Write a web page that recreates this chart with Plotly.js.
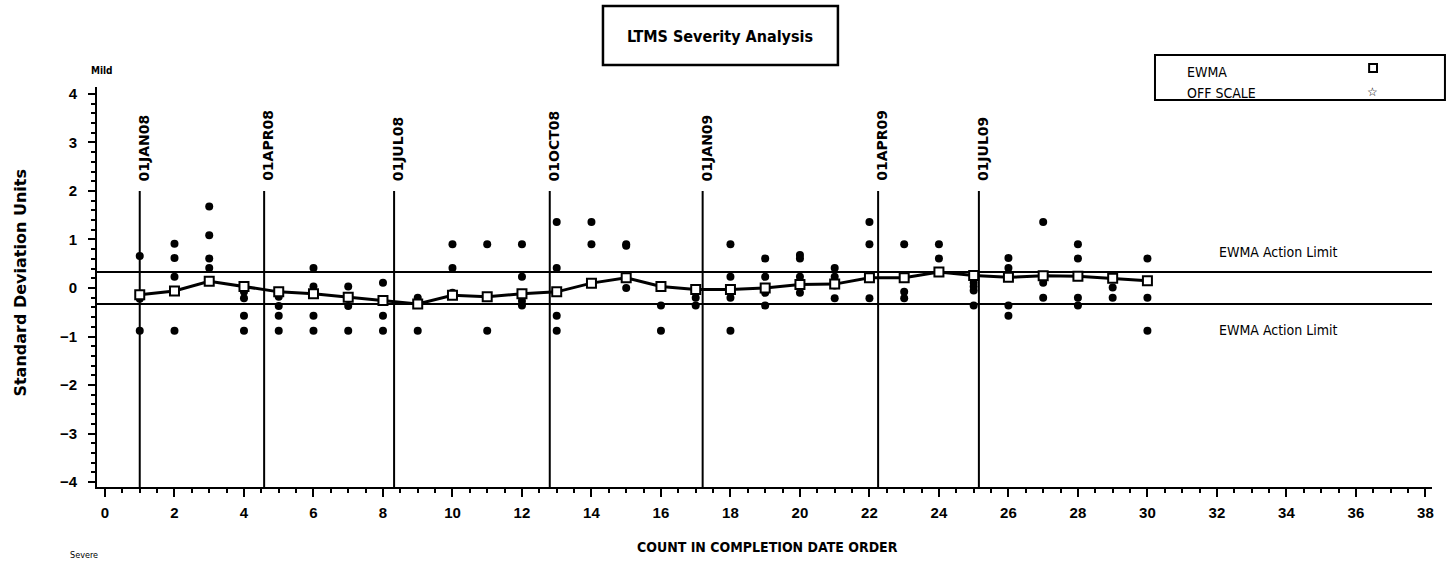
<!DOCTYPE html>
<html>
<head>
<meta charset="utf-8">
<script src="https://cdn.plot.ly/plotly-3.0.1.min.js"></script>
<style>
html,body{margin:0;padding:0;background:#fff;}
#chart{width:1455px;height:562px;}
</style>
</head>
<body>
<div id="chart"></div>
<script>
// ---- Data ----
const testIndex = [
  1,1,1,
  2,2,2,2,
  3,3,3,3,
  4,4,4,4,
  5,5,5,5,
  6,6,6,6,
  7,7,7,
  8,8,8,
  9,9,9,
  10,10,10,
  11,11,11,
  12,12,12,12,
  13,13,13,13,13,
  14,14,
  15,15,15,
  16,16,
  17,17,
  18,18,18,18,
  19,19,19,19,
  20,20,20,20,
  21,21,21,21,
  22,22,22,
  23,23,23,
  24,24,
  25,25,25,25,
  26,26,26,26,26,
  27,27,27,
  28,28,28,28,
  29,29,
  30,30,30
];
const testValue = [
  0.66,-0.22,-0.88,
  0.91,0.62,0.23,-0.88,
  1.68,1.09,0.61,0.41,
  -0.08,-0.21,-0.57,-0.88,
  -0.18,-0.37,-0.57,-0.88,
  0.41,0.03,-0.57,-0.88,
  0.03,-0.37,-0.88,
  0.11,-0.57,-0.88,
  -0.20,-0.35,-0.88,
  0.90,0.41,-0.10,
  0.90,-0.20,-0.88,
  0.90,0.23,-0.27,-0.36,
  1.36,0.41,-0.10,-0.57,-0.88,
  1.36,0.90,
  0.90,0.87,0.00,
  -0.36,-0.88,
  -0.20,-0.36,
  0.90,0.23,-0.20,-0.88,
  0.61,0.23,-0.10,-0.36,
  0.68,0.61,0.23,-0.10,
  0.41,0.23,0.05,-0.21,
  1.36,0.90,-0.21,
  0.90,-0.08,-0.21,
  0.90,0.61,
  0.11,0.03,-0.05,-0.36,
  0.62,0.41,0.30,-0.36,-0.57,
  1.36,0.11,-0.20,
  0.90,0.61,-0.20,-0.36,
  0.01,-0.20,
  0.61,-0.20,-0.88
];
const ewmaIndex = [1,2,3,4,5,6,7,8,9,10,11,12,13,14,15,16,17,18,19,20,21,22,23,24,25,26,27,28,29,30];
const ewmaValue = [-0.14,-0.06,0.14,0.03,-0.08,-0.12,-0.19,-0.26,-0.33,-0.15,-0.18,-0.12,-0.08,0.10,0.21,0.03,-0.03,-0.03,0.00,0.07,0.08,0.21,0.21,0.33,0.26,0.22,0.25,0.24,0.20,0.15];
const dateLabels = ['01JAN08','01APR08','01JUL08','01OCT08','01JAN09','01APR09','01JUL09'];
const dateLinePos = [1.0,4.58,8.32,12.8,17.2,22.25,25.15];
const actionLimits = [0.33,-0.33];
const actionLabelY = [0.74,-0.87];
const xTickVals = [0,2,4,6,8,10,12,14,16,18,20,22,24,26,28,30,32,34,36,38];
const yTickVals = [-4,-3,-2,-1,0,1,2,3,4];

const xRange = [-0.23, 38.19];
const yRange = [-4.103, 4.144];

const narrow = 'Liberation Sans Narrow, DejaVu Sans Condensed, Arial Narrow, sans-serif';
const sans = 'Liberation Sans, Arial, sans-serif';
const wide = 'DejaVu Sans, Verdana, sans-serif';

const traces = [
  {
    x: testIndex, y: testValue, type: 'scatter', mode: 'markers',
    marker: {symbol: 'circle', size: 8, color: '#000'},
    hoverinfo: 'x+y', showlegend: false
  },
  {
    x: ewmaIndex, y: ewmaValue, type: 'scatter', mode: 'lines+markers',
    line: {color: '#000', width: 3},
    marker: {symbol: 'square', size: 9, color: '#fff', line: {color: '#000', width: 2}},
    showlegend: false
  }
];

const shapes = [];
dateLinePos.forEach(p => shapes.push({
  type: 'line', xref: 'x', yref: 'y', x0: p, x1: p, y0: yRange[0], y1: 2.0,
  line: {color: '#000', width: 2}, layer: 'below'
}));
actionLimits.forEach(v => shapes.push({
  type: 'line', xref: 'paper', yref: 'y', x0: 0, x1: 1, y0: v, y1: v,
  line: {color: '#000', width: 2}, layer: 'below'
}));
// title box
shapes.push({type: 'rect', xref: 'paper', yref: 'paper', x0: 0.379, x1: 0.555, y0: 1.055, y1: 1.2025,
  line: {color: '#000', width: 2.5}});
// legend box
shapes.push({type: 'rect', xref: 'paper', yref: 'paper', x0: 0.7925, x1: 1.0097, y0: 0.9675, y1: 1.08,
  line: {color: '#000', width: 2}});
// legend square symbol
shapes.push({type: 'rect', xref: 'paper', yref: 'paper', x0: 0.9529, x1: 0.9588, y0: 1.0375, y1: 1.0575,
  line: {color: '#000', width: 2}, fillcolor: '#fff'});

const annotations = [];
dateLabels.forEach((t, i) => annotations.push({
  text: '<b>' + t + '</b>', x: dateLinePos[i], y: 2.16, xref: 'x', yref: 'y', textangle: -90,
  xanchor: 'center', yanchor: 'bottom',
  showarrow: false, xshift: 4, font: {family: wide, size: 14, color: '#000'}
}));
actionLabelY.forEach(v => annotations.push({
  text: 'EWMA Action Limit', x: 32.0, y: v, xref: 'x', yref: 'y', xanchor: 'left', yanchor: 'middle',
  showarrow: false, font: {family: narrow, size: 14, color: '#000'}
}));
annotations.push(
  {text: '<b>Standard Deviation Units</b>', xref: 'paper', yref: 'paper', x: -0.058, y: 0.51,
   xanchor: 'center', yanchor: 'middle',
   textangle: -90, showarrow: false, font: {family: wide, size: 16, color: '#000'}},
  {text: '<b>COUNT IN COMPLETION DATE ORDER</b>', xref: 'paper', yref: 'paper', x: 0.5026, y: -0.15,
   xanchor: 'center', yanchor: 'middle',
   showarrow: false, font: {family: narrow, size: 14, color: '#000'}},
  {text: '<b>Mild</b>', xref: 'paper', yref: 'paper', x: -0.006, y: 1.0425, xanchor: 'left', yanchor: 'middle',
   showarrow: false, font: {family: narrow, size: 10, color: '#000'}},
  {text: 'Severe', xref: 'paper', yref: 'paper', x: -0.022, y: -0.1875, xanchor: 'left', yanchor: 'bottom',
   showarrow: false, font: {family: narrow, size: 9, color: '#000'}},
  {text: 'EWMA', xref: 'paper', yref: 'paper', x: 0.8150, y: 1.0375, xanchor: 'left', yanchor: 'middle',
   showarrow: false, font: {family: narrow, size: 14, color: '#000'}},
  {text: 'OFF SCALE', xref: 'paper', yref: 'paper', x: 0.8150, y: 0.985, xanchor: 'left', yanchor: 'middle',
   showarrow: false, font: {family: narrow, size: 14, color: '#000'}},
  {text: '☆', xref: 'paper', yref: 'paper', x: 0.9558, y: 0.9875, xanchor: 'center', yanchor: 'middle',
   showarrow: false, font: {family: 'DejaVu Sans, sans-serif', size: 12, color: '#000'}}
);

const layout = {
  width: 1455, height: 562,
  margin: {l: 97, r: 23, t: 87, b: 75, pad: 0},
  paper_bgcolor: '#fff', plot_bgcolor: '#fff',
  showlegend: false,
  title: {
    text: '<b>LTMS Severity Analysis</b>',
    font: {family: narrow, size: 16, color: '#000'},
    xref: 'container', yref: 'container', x: 720/1455, y: 1 - 36/562,
    xanchor: 'center', yanchor: 'middle'
  },
  xaxis: {
    range: xRange, showgrid: false, zeroline: false,
    showline: true, linecolor: '#000', linewidth: 2,
    ticks: 'outside', ticklen: 8, tickwidth: 2, tickcolor: '#000',
    tickmode: 'array', tickvals: xTickVals, ticklabelstandoff: 3,
    tickfont: {family: sans, size: 15, color: '#000', weight: 'bold'},
    minor: {dtick: 0.5, tick0: 0, ticks: 'outside', ticklen: 4, tickwidth: 2, tickcolor: '#000'}
  },
  yaxis: {
    range: yRange, showgrid: false, zeroline: false,
    showline: true, linecolor: '#000', linewidth: 2,
    ticks: 'outside', ticklen: 7, tickwidth: 2, tickcolor: '#000',
    tickmode: 'array', tickvals: yTickVals, ticklabelstandoff: 8,
    tickfont: {family: sans, size: 15, color: '#000', weight: 'bold'},
    minor: {dtick: 0.2, tick0: 0, ticks: 'outside', ticklen: 4, tickwidth: 2, tickcolor: '#000'}
  },
  shapes: shapes,
  annotations: annotations
};

Plotly.newPlot('chart', traces, layout, {displayModeBar: false, staticPlot: true});
</script>
</body>
</html>
